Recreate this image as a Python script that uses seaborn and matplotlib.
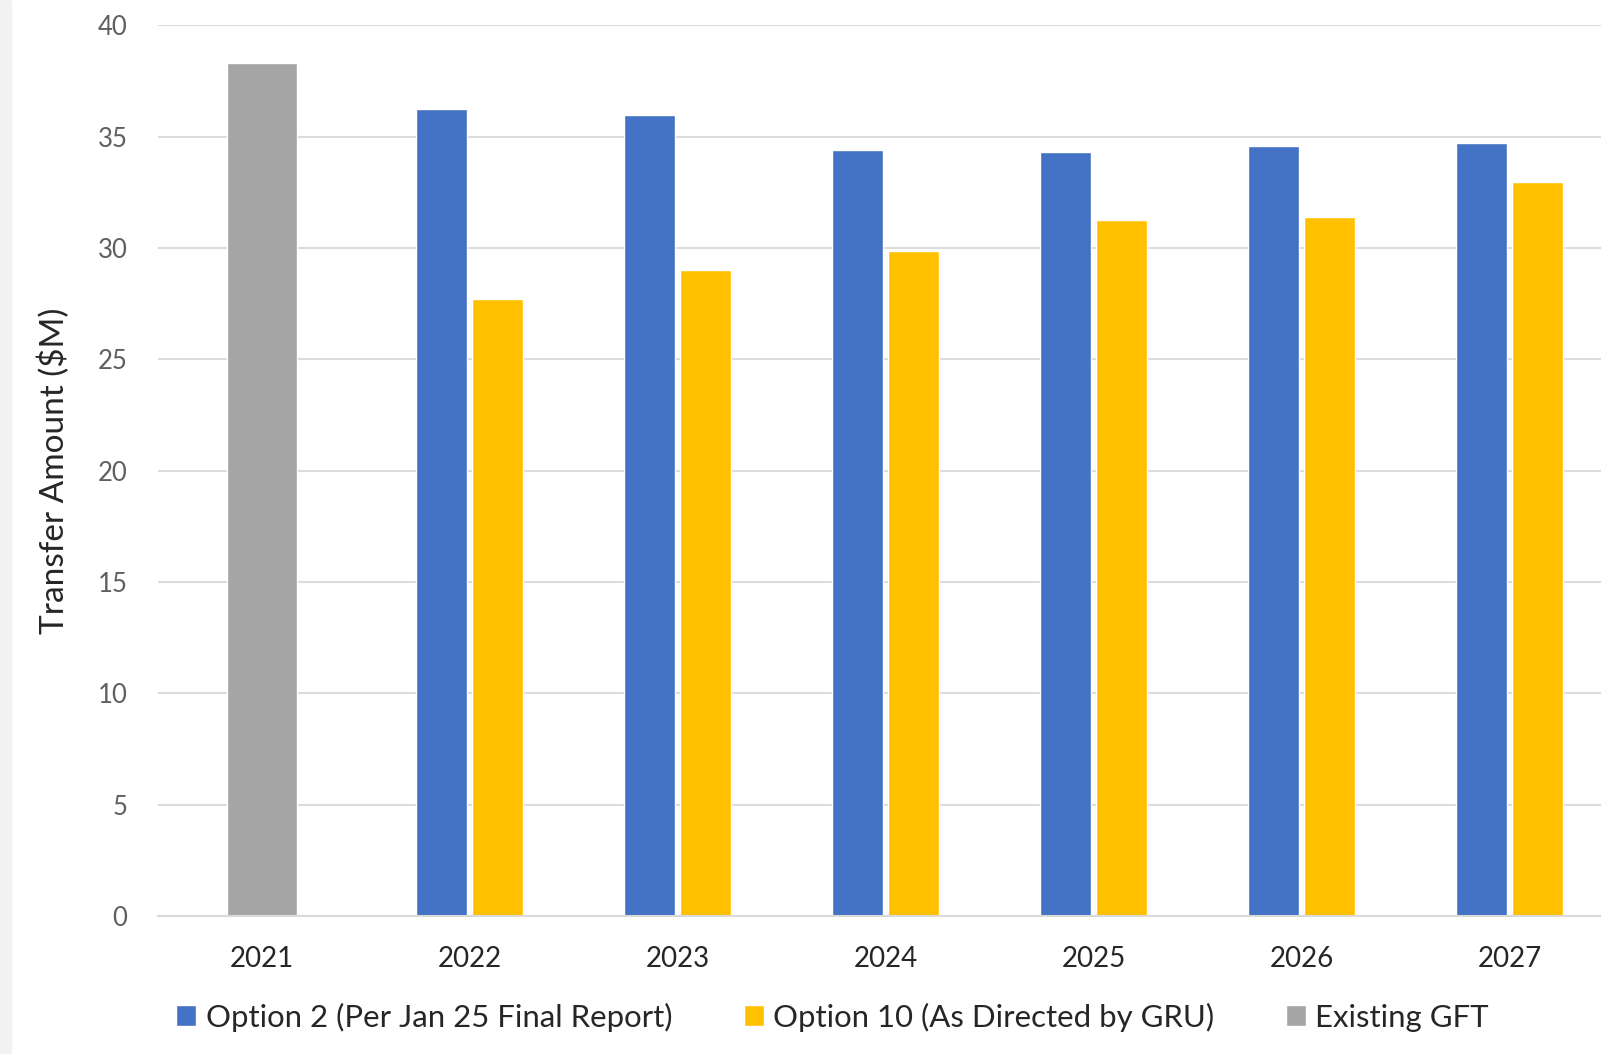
import numpy as np
import pandas as pd
import seaborn as sns
import matplotlib.pyplot as plt
from matplotlib.patches import Rectangle

years = ["2021", "2022", "2023", "2024", "2025", "2026", "2027"]
gft_years = ["2021"]
gft_values = [38.3]
option_years = ["2022", "2023", "2024", "2025", "2026", "2027"]
option2 = [36.25, 35.95, 34.4, 34.3, 34.6, 34.7]
option10 = [27.7, 29.0, 29.85, 31.25, 31.4, 32.95]
series_names = ["Option 2 (Per Jan 25 Final Report)", "Option 10 (As Directed by GRU)", "Existing GFT"]

sns.set_theme(style="white")
plt.rcParams["font.family"] = ["Lato", "DejaVu Sans"]

df = pd.DataFrame({
    "year": option_years * 2,
    "value": option2 + option10,
    "series": [series_names[0]] * len(option_years) + [series_names[1]] * len(option_years),
})
gft = pd.DataFrame({"year": gft_years, "value": gft_values})

fig = plt.figure(figsize=(16.01, 10.54), dpi=100)
# faint slide background strip on the far left
fig.patches.append(Rectangle((0, 0), 0.007, 1, transform=fig.transFigure,
                             color="#f2f2f4", zorder=0))
ax = fig.add_axes([0.0987, 0.131, 0.909, 0.845])

sns.barplot(data=df, x="year", y="value", hue="series", order=years,
            hue_order=series_names[:2], palette=["#4472C4", "#FFC000"],
            width=0.54, gap=0.09, ax=ax, saturation=1, legend=True)
sns.barplot(data=gft, x="year", y="value", order=years, color="#A5A5A5",
            width=0.334, ax=ax, saturation=1, label=series_names[2])

ax.set_xlim(-0.5, 6.5)
ax.set_ylim(0, 40)
ax.set_yticks(np.arange(0, 41, 5))
ax.yaxis.grid(True, color="#dcdcdc", linewidth=1.5)
ax.set_axisbelow(True)
for s in ["top", "right", "left"]:
    ax.spines[s].set_visible(False)
ax.spines["bottom"].set_color("#d9d9d9")
ax.spines["bottom"].set_linewidth(1.5)
ax.tick_params(axis="y", length=0, pad=22, labelsize=18.5, labelcolor="#5f5f5f")
ax.tick_params(axis="x", length=0, pad=22, labelsize=20, labelcolor="#262626")
ax.set_xlabel("")
ax.set_ylabel("Transfer Amount ($M)", fontsize=24, color="#262626", labelpad=20)

handles, labels = ax.get_legend_handles_labels()
order = [labels.index(n) for n in series_names]
ax.legend([handles[i] for i in order], [labels[i] for i in order],
          loc="center", bbox_to_anchor=(0.52, 0.035), bbox_transform=fig.transFigure,
          ncol=3, frameon=False, fontsize=22.4, handlelength=0.65, handleheight=0.65,
          handletextpad=0.3, columnspacing=2.3, labelcolor="#262626")

fig.savefig("out.png", dpi=100)
